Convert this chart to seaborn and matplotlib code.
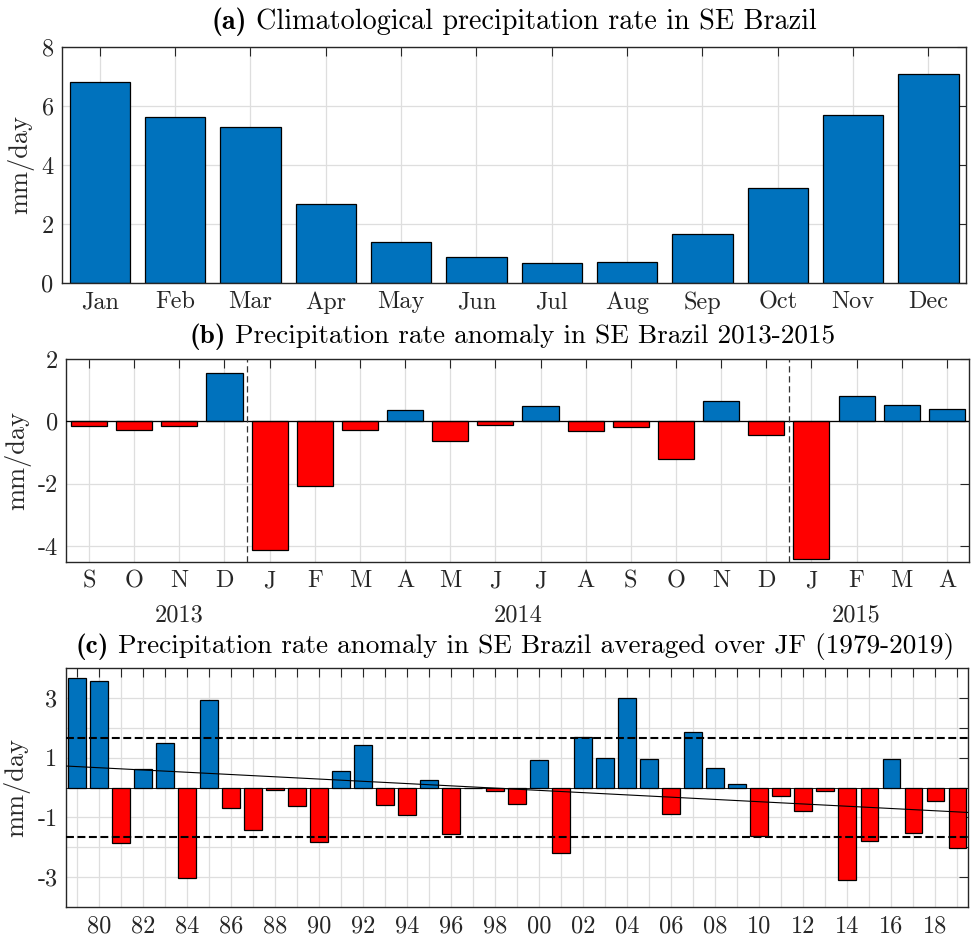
import numpy as np
import pandas as pd
import matplotlib
matplotlib.use("Agg")
import matplotlib.pyplot as plt
import matplotlib.transforms as mtransforms
import seaborn as sns

# ---------------- data ----------------
clim_months = ["Jan", "Feb", "Mar", "Apr", "May", "Jun", "Jul", "Aug", "Sep", "Oct", "Nov", "Dec"]
clim_values = [6.81, 5.64, 5.30, 2.67, 1.40, 0.88, 0.67, 0.71, 1.67, 3.22, 5.69, 7.10]

anom_months = ["S", "O", "N", "D", "J", "F", "M", "A", "M", "J", "J", "A", "S", "O", "N", "D", "J", "F", "M", "A"]
anom_values = [-0.14, -0.28, -0.16, 1.55, -4.13, -2.06, -0.29, 0.35, -0.62, -0.13, 0.51, -0.32,
               -0.19, -1.20, 0.65, -0.45, -4.39, 0.83, 0.52, 0.39]
anom_years = ["2013", "2014", "2015"]
anom_year_pos = [3.0, 10.5, 18.0]

jf_years = list(range(1979, 2020))
jf_values = [3.67, 3.57, -1.84, 0.63, 1.49, -3.02, 2.93, -0.69, -1.43, -0.07,
             -0.61, -1.82, 0.54, 1.42, -0.57, -0.91, 0.24, -1.57, -0.03, -0.11,
             -0.54, 0.93, -2.18, 1.69, 0.99, 3.00, 0.94, -0.88, 1.87, 0.64,
             0.13, -1.62, -0.27, -0.79, -0.13, -3.10, -1.79, 0.96, -1.53, -0.44,
             -2.03]

titles = [("(a)", "Climatological precipitation rate in SE Brazil"),
          ("(b)", "Precipitation rate anomaly in SE Brazil 2013-2015"),
          ("(c)", "Precipitation rate anomaly in SE Brazil averaged over JF (1979-2019)")]

BLUE = "#0072BD"
RED = "#FF0000"
AXC = "#262626"
GRIDC = "#dedede"

sns.set_theme(style="white")
plt.rcParams["font.family"] = ["cmr10", "DejaVu Serif"]
plt.rcParams["mathtext.fontset"] = "cm"
plt.rcParams["axes.unicode_minus"] = False
plt.rcParams["axes.formatter.use_mathtext"] = True

fig = plt.figure(figsize=(9.71, 9.38), dpi=100)
ax_a = fig.add_axes([0.0639, 0.6983, 0.9310, 0.2516])
ax_b = fig.add_axes([0.0684, 0.4009, 0.9300, 0.2164])
ax_c = fig.add_axes([0.0677, 0.0330, 0.9296, 0.2548])

TICK_FS = 17.5
YL_FS = 19


def style(ax):
    ax.set_axisbelow(True)
    ax.grid(True, color=GRIDC, linewidth=0.9)
    for s in ax.spines.values():
        s.set_visible(True)
        s.set_color(AXC)
        s.set_linewidth(1.0)
    ax.tick_params(direction="in", top=True, right=True, length=6.5, width=0.8,
                   color=AXC, labelcolor=AXC, labelsize=TICK_FS, pad=6)
    ax.set_xlabel("")
    ax.set_ylabel("mm/day", fontsize=YL_FS, color=AXC, labelpad=5)


def bars(ax, pos, vals):
    df = pd.DataFrame({"pos": pos, "val": vals,
                       "sign": ["pos" if v >= 0 else "neg" for v in vals]})
    sns.barplot(data=df, x="pos", y="val", hue="sign",
                palette={"pos": BLUE, "neg": RED}, native_scale=True,
                dodge=False, width=0.8, saturation=1, edgecolor="black",
                linewidth=0.9, legend=False, errorbar=None, orient="x", ax=ax)


# ---------------- (a) ----------------
pos_a = np.arange(1, len(clim_months) + 1)
df_a = pd.DataFrame({"pos": pos_a, "val": clim_values})
sns.barplot(data=df_a, x="pos", y="val", color=BLUE, native_scale=True, width=0.8,
            saturation=1, edgecolor="black", linewidth=0.9, errorbar=None,
            orient="x", ax=ax_a)
style(ax_a)
ax_a.set_xlim(0.5, len(clim_months) + 0.5)
ax_a.set_ylim(0, 8)
ax_a.set_xticks(pos_a)
ax_a.set_xticklabels(clim_months)
ax_a.set_yticks([0, 2, 4, 6, 8])
ax_a.set_yticklabels(["0", "2", "4", "6", "8"])

# ---------------- (b) ----------------
pos_b = np.arange(1, len(anom_months) + 1)
bars(ax_b, pos_b, anom_values)
style(ax_b)
ax_b.axhline(0, color="black", linewidth=0.9, zorder=3)
for i in range(len(anom_months) - 1):
    if anom_months[i] == "D":
        ax_b.axvline(pos_b[i] + 0.5, color="#333333", linewidth=0.9,
                     linestyle=(0, (5, 3)), zorder=3)
ax_b.set_xlim(0.5, len(anom_months) + 0.5)
ax_b.set_ylim(-4.5, 2)
ax_b.set_xticks(pos_b)
ax_b.set_xticklabels(anom_months)
ax_b.set_yticks([-4, -2, 0, 2])
ax_b.set_yticklabels(["-4", "-2", "0", "2"])
trans_b = mtransforms.blended_transform_factory(ax_b.transData, ax_b.transAxes)
for yr, xp in zip(anom_years, anom_year_pos):
    ax_b.text(xp, -0.265, yr, transform=trans_b, ha="center", va="center",
              fontsize=TICK_FS, color=AXC)

# ---------------- (c) ----------------
yrs = np.array(jf_years)
vals_c = np.array(jf_values)
bars(ax_c, yrs, jf_values)
style(ax_c)
ax_c.axhline(0, color="black", linewidth=0.6, zorder=3)
sd = np.std(vals_c, ddof=1)
for v in (sd, -sd):
    ax_c.axhline(v, color="black", linewidth=1.5, linestyle=(0, (3.8, 1.7)), zorder=4)
xl = (yrs[0] - 0.5, yrs[-1] + 0.5)
coef = np.polyfit(yrs, vals_c, 1)
xx = np.array(xl)
ax_c.plot(xx, np.polyval(coef, xx), color="black", linewidth=0.8, zorder=4)
ax_c.set_xlim(*xl)
ax_c.set_ylim(-4, 4)
ax_c.set_xticks(yrs)
ax_c.set_xticklabels([f"{y % 100:02d}" if y % 2 == 0 else "" for y in yrs])
ax_c.set_yticks([-3, -2, -1, 0, 1, 2, 3])
ax_c.set_yticklabels(["-3", "", "-1", "", "1", "", "3"])

# ---------------- titles: bold panel letter + regular text, centred ----------------
title_specs = [(ax_a, 20.3, 18, 0), (ax_b, 19.6, 16, -6), (ax_c, 19.6, 15, -2)]
fig.canvas.draw()
renderer = fig.canvas.get_renderer()
for (ax, fs, gap_px, dx), (lab, txt) in zip(title_specs, titles):
    bb = ax.get_window_extent(renderer)
    t1 = fig.text(0, 0, lab, fontsize=fs, family="cmb10", color="black",
                  transform=mtransforms.IdentityTransform(), ha="left", va="baseline")
    t2 = fig.text(0, 0, txt, fontsize=fs, color="black",
                  transform=mtransforms.IdentityTransform(), ha="left", va="baseline")
    w1 = t1.get_window_extent(renderer).width
    w2 = t2.get_window_extent(renderer).width
    sp = fs * 100 / 72 * 0.33
    total = w1 + sp + w2
    x0 = bb.x0 + bb.width / 2 - total / 2 + dx
    y0 = bb.y1 + gap_px
    t1.set_position((x0, y0))
    t2.set_position((x0 + w1 + sp, y0))

fig.savefig("out.png", dpi=100)
